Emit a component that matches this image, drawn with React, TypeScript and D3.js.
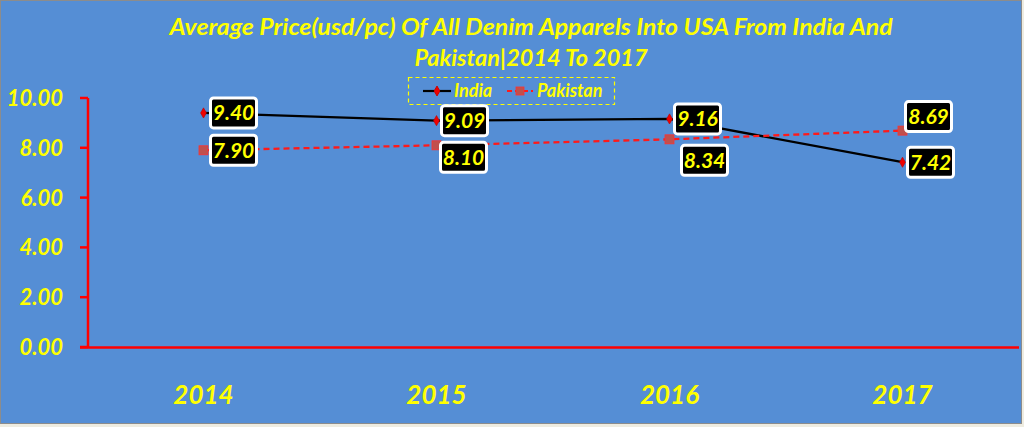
import React from "react";
import * as d3 from "d3";

const years = ["2014", "2015", "2016", "2017"];
const india = [9.4, 9.09, 9.16, 7.42];
const pakistan = [7.9, 8.1, 8.34, 8.69];
const yTicks = [0, 2, 4, 6, 8, 10];
const titleLines = [
  "Average Price(usd/pc) Of All Denim Apparels Into USA From India And",
  "Pakistan|2014 To 2017",
];
const titleWidths = [723, 233];

// label offsets (box centre relative to point)
const indiaOffsets = [[30, 0], [28, 0], [28, 0], [28, 0]];
const pakOffsets = [[30, 0], [27, 12], [35, 21], [26, -14]];

const W = 1024;
const H = 427;
const FONT = "Lato, 'Open Sans', sans-serif";
const YELLOW = "#FFFF00";

export default function App() {
  const x = d3.scaleBand<string>().domain(years).range([87, 1019]);
  const y = d3.scaleLinear().domain([0, 10]).range([347, 98]);
  const cx = (d: string) => (x(d) as number) + x.bandwidth() / 2;

  const line = d3
    .line<number>()
    .x((_, i) => cx(years[i]))
    .y((v) => y(v));

  const label = (v: number, i: number, off: number[], key: string) => {
    const bx = cx(years[i]) + off[0];
    const by = y(v) + off[1];
    return (
      <g key={key}>
        <rect
          x={bx - 23}
          y={by - 15}
          width={46}
          height={30}
          rx={3}
          fill="#000"
          stroke="#fff"
          strokeWidth={3}
        />
        <text
          x={bx}
          y={by + 7.5}
          textAnchor="middle"
          fill={YELLOW}
          fontSize={21}
          fontWeight="bold"
          fontStyle="italic"
          fontFamily={FONT}
        >
          {v.toFixed(2)}
        </text>
      </g>
    );
  };

  return (
    <svg
      width={W}
      height={H}
      style={{ position: "absolute", left: 0, top: 0, display: "block" }}
    >
      <rect x={0} y={0} width={W} height={H} fill="#EEECE1" />
      <rect x={0.5} y={0.5} width={1021} height={423} fill="#558ED5" stroke="#8c8c8c" strokeWidth={1} />

      {titleLines.map((t, i) => (
        <text
          key={t}
          x={531}
          y={35 + i * 31}
          textAnchor="middle"
          fill={YELLOW}
          fontSize={22}
          fontWeight="bold"
          fontStyle="italic"
          fontFamily={FONT}
          textLength={titleWidths[i]}
          lengthAdjust="spacingAndGlyphs"
        >
          {t}
        </text>
      ))}

      {/* Legend */}
      <rect x={408.5} y={77.5} width={206} height={27} fill="none" stroke={YELLOW} strokeWidth={1.2} strokeDasharray="4,3" />
      <line x1={423} x2={451} y1={91} y2={91} stroke="#000" strokeWidth={2.2} />
      <path d={d3.symbol(d3.symbolDiamond, 28)() as string} transform="translate(437,91)" fill="#e00" stroke="#c00" />
      <text x={454} y={97} fill={YELLOW} fontSize={18} fontWeight="bold" fontStyle="italic" fontFamily={FONT}>India</text>
      <line x1={507} x2={533} y1={91} y2={91} stroke="#ff1a1a" strokeWidth={2.2} strokeDasharray="5,3" />
      <rect x={516} y={87} width={8} height={8} fill="#c0504d" stroke="#ff3030" strokeWidth={0.8} />
      <text x={537} y={97} fill={YELLOW} fontSize={18} fontWeight="bold" fontStyle="italic" fontFamily={FONT}>Pakistan</text>

      {/* Axes */}
      <line x1={88} x2={88} y1={98} y2={348} stroke="#ff0000" strokeWidth={2.5} />
      <line x1={80} x2={1019} y1={347.5} y2={347.5} stroke="#ff0000" strokeWidth={2.5} />
      {yTicks.map((t) => (
        <g key={t}>
          <line x1={80} x2={88} y1={y(t)} y2={y(t)} stroke="#ff0000" strokeWidth={2.5} />
          <text
            x={63}
            y={y(t) + 8}
            textAnchor="end"
            fill={YELLOW}
            fontSize={22}
            fontWeight="bold"
            fontStyle="italic"
            fontFamily={FONT}
          >
            {t.toFixed(2)}
          </text>
        </g>
      ))}
      {years.map((yr) => (
        <text
          key={yr}
          x={cx(yr)}
          y={404}
          textAnchor="middle"
          fill={YELLOW}
          fontSize={26}
          fontWeight="bold"
          fontStyle="italic"
          fontFamily={FONT}
        >
          {yr}
        </text>
      ))}

      {/* Lines */}
      <path d={line(india) as string} fill="none" stroke="#000" strokeWidth={2.3} />
      <path d={line(pakistan) as string} fill="none" stroke="#ff1a1a" strokeWidth={2.3} strokeDasharray="6,4" />
      {india.map((v, i) => (
        <path
          key={"id" + i}
          d={d3.symbol(d3.symbolDiamond, 30)() as string}
          transform={`translate(${cx(years[i])},${y(v)})`}
          fill="#e00"
          stroke="#b00"
          strokeWidth={0.6}
        />
      ))}
      {pakistan.map((v, i) => (
        <rect
          key={"pk" + i}
          x={cx(years[i]) - 4.5}
          y={y(v) - 4.5}
          width={9}
          height={9}
          fill="#c0504d"
          stroke="#ff3030"
          strokeWidth={0.8}
        />
      ))}

      {india.map((v, i) => label(v, i, indiaOffsets[i], "li" + i))}
      {pakistan.map((v, i) => label(v, i, pakOffsets[i], "lp" + i))}
    </svg>
  );
}
